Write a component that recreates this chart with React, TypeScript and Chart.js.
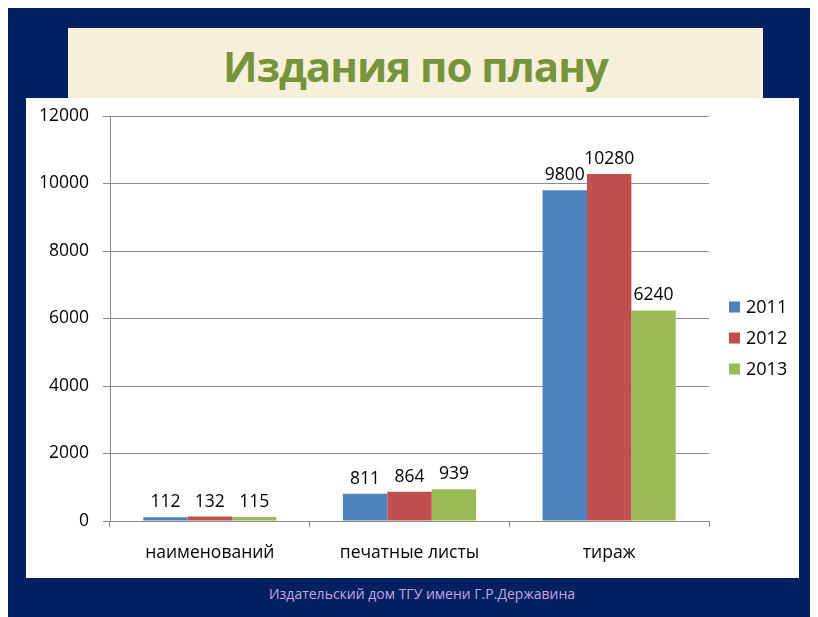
import React, { useEffect, useRef } from "react";
import { Chart, registerables } from "chart.js";

Chart.register(...registerables);

const categories = ["наименований", "печатные листы", "тираж"];
const seriesNames = ["2011", "2012", "2013"];
const values2011 = [112, 811, 9800];
const values2012 = [132, 864, 10280];
const values2013 = [115, 939, 6240];
const colors = ["#4F81BD", "#C0504D", "#9BBB59"];
const yMax = 12000;
const yStep = 2000;

const FONT = "'Open Sans', 'Noto Sans', sans-serif";

const dataLabelPlugin = {
  id: "dataLabels",
  afterDatasetsDraw(chart: any) {
    const ctx = chart.ctx;
    ctx.save();
    ctx.font = `17.5px ${FONT}`;
    ctx.fillStyle = "#000";
    ctx.textAlign = "center";
    ctx.textBaseline = "alphabetic";
    chart.data.datasets.forEach((ds: any, i: number) => {
      const meta = chart.getDatasetMeta(i);
      meta.data.forEach((el: any, j: number) => {
        ctx.fillText(String(ds.data[j]), el.x, el.y - 10);
      });
    });
    ctx.restore();
  },
};

const legendPlugin = {
  id: "customLegend",
  afterDraw(chart: any) {
    const ctx = chart.ctx;
    const area = chart.chartArea;
    ctx.save();
    ctx.font = `18px ${FONT}`;
    ctx.textAlign = "left";
    ctx.textBaseline = "middle";
    chart.data.datasets.forEach((ds: any, i: number) => {
      const x = area.right + 20;
      const cy = 209 + i * 31;
      ctx.fillStyle = ds.backgroundColor;
      ctx.fillRect(x, cy - 5.5, 11, 11);
      ctx.fillStyle = "#000";
      ctx.fillText(ds.label, x + 17, cy + 1);
    });
    ctx.restore();
  },
};

function BarChart() {
  const ref = useRef<HTMLCanvasElement>(null);
  useEffect(() => {
    if (!ref.current) return;
    const chart = new Chart(ref.current, {
      type: "bar",
      data: {
        labels: categories,
        datasets: [
          { label: seriesNames[0], data: values2011, backgroundColor: colors[0] },
          { label: seriesNames[1], data: values2012, backgroundColor: colors[1] },
          { label: seriesNames[2], data: values2013, backgroundColor: colors[2] },
        ],
      },
      options: {
        animation: false,
        responsive: false,
        maintainAspectRatio: false,
        layout: { padding: { top: 18, right: 90, left: 0, bottom: 0 } },
        datasets: {
          bar: { categoryPercentage: 0.667, barPercentage: 1 },
        } as any,
        plugins: {
          legend: { display: false },
          tooltip: { enabled: false },
        },
        scales: {
          x: {
            grid: {
              display: true,
              drawOnChartArea: false,
              drawTicks: true,
              tickLength: 6,
              color: "#8C8C8C",
              offset: true,
            },
            border: { color: "#8C8C8C", width: 1 },
            ticks: {
              color: "#000",
              font: { family: FONT, size: 17.5 },
              padding: 16,
            },
            afterFit(scale: any) {
              scale.height = 57;
              scale.paddingLeft = 0;
              scale.paddingRight = 0;
            },
          },
          y: {
            min: 0,
            max: yMax,
            grid: {
              color: "#8C8C8C",
              tickLength: 7,
              drawTicks: true,
            },
            border: { color: "#8C8C8C", width: 1 },
            ticks: {
              stepSize: yStep,
              color: "#000",
              font: { family: FONT, size: 17.5 },
              padding: 14,
              callback: (v: any) => String(v),
            },
            afterFit(scale: any) {
              scale.width = 84;
              scale.paddingTop = 0;
              scale.paddingBottom = 0;
            },
          },
        },
      },
      plugins: [dataLabelPlugin, legendPlugin],
    });
    return () => chart.destroy();
  }, []);
  return <canvas ref={ref} width={773} height={480} style={{ display: "block" }} />;
}

export default function App() {
  return (
    <div
      style={{
        position: "relative",
        width: 810,
        height: 609,
        background: "#002060",
        marginLeft: -1,
        overflow: "hidden",
      }}
    >
      <div
        style={{
          position: "absolute",
          left: 61,
          top: 20,
          width: 695,
          height: 78,
          background: "#F6F0DA",
        }}
      >
        <div
          style={{
            position: "absolute",
            left: 0,
            right: 0,
            top: 12,
            textAlign: "center",
            fontFamily: FONT,
            fontWeight: 700,
            fontSize: 42,
            lineHeight: "52px",
            letterSpacing: -1,
            color: "#77933C",
          }}
        >
          Издания по плану
        </div>
      </div>
      <div
        style={{
          position: "absolute",
          left: 19,
          top: 90,
          width: 773,
          height: 480,
          background: "#FFFFFF",
        }}
      >
        <BarChart />
      </div>
      <div
        style={{
          position: "absolute",
          left: 0,
          width: 830,
          top: 576,
          textAlign: "center",
          fontFamily: FONT,
          fontSize: 14,
          lineHeight: "20px",
          color: "#C9A3E6",
        }}
      >
        Издательский дом ТГУ имени Г.Р.Державина
      </div>
    </div>
  );
}
